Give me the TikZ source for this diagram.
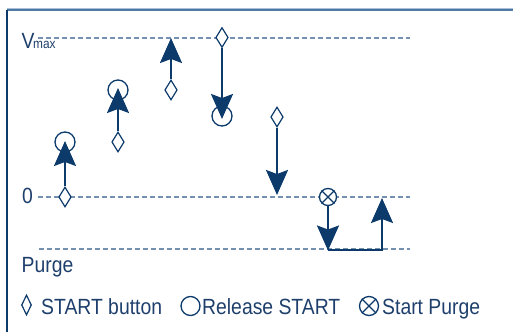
\documentclass[tikz,border=0pt]{standalone}
\usepackage{fontspec}
\setmainfont{Liberation Sans}[FakeStretch=0.88]
\usetikzlibrary{shapes.geometric,arrows.meta}
\definecolor{navy}{HTML}{0B3A6B}
\definecolor{txt}{HTML}{1E3F6C}
\definecolor{dashc}{HTML}{7590B0}
\definecolor{framec}{HTML}{4F7AA5}
\definecolor{framel}{HTML}{A9BFD5}
\tikzset{
  lvl/.style={draw=dashc, line width=1.4pt, dash pattern=on 4.5pt off 3.5pt},
  sbtn/.style={draw=navy, fill=white, diamond, line width=1.2pt, inner sep=0pt, minimum width=12.5pt, minimum height=20pt},
  rel/.style={draw=navy, fill=white, circle, line width=1.3pt, inner sep=0pt, minimum size=20pt},
  prg/.style={draw=navy, fill=white, circle, line width=1.3pt, inner sep=0pt, minimum size=17pt},
  varrow/.style={draw=navy, line width=2pt, -{Stealth[length=25pt,width=22pt,inset=4pt]}},
  shaft/.style={draw=navy, line width=2pt},
  lbl/.style={text=txt, font=\fontsize{22}{25}\selectfont, inner sep=0pt, anchor=base west},
}
\begin{document}
\begin{tikzpicture}[x=1pt,y=-1pt]
\useasboundingbox (0,0) rectangle (513,332);
% frame
\draw[framel, line width=1pt] (7,8.6) -- (513,8.6);
\draw[framec, line width=2pt] (7,10.3) -- (513,10.3);
\draw[navy, line width=1.5pt] (7,9.5) -- (7,332);
% level lines
\coordinate (va) at (38,38); \coordinate (vb) at (410,38);
\coordinate (za) at (38,197); \coordinate (zb) at (410,197);
\coordinate (pa) at (39,249); \coordinate (pb) at (410,249);
\draw[lvl] (va) -- (vb);
\draw[lvl] (za) -- (zb);
\draw[lvl] (pa) -- (pb);
% labels
\node[lbl] (lv) at (21.5,48.5) {V};
\node[lbl, font=\fontsize{13.5}{15}\selectfont] (lm) at (33,48.5) {max};
\node[lbl] (l0) at (22,203.5) {0};
\node[lbl] (lp) at (21.5,272.5) {Purge};
% symbols
\node[sbtn] (d1) at (65,197) {};
\node[rel] (c1) at (65,142) {};
\node[sbtn] (d2) at (118,142) {};
\node[rel] (c2) at (118,90) {};
\node[sbtn] (d3) at (171,90) {};
\coordinate (t3) at (171,38);
\node[sbtn] (d4) at (222,37.5) {};
\node[rel] (c4) at (222,116) {};
\node[sbtn] (d5) at (277,117) {};
\coordinate (t5) at (277,195);
\node[prg] (x6) at (328,197) {};
\draw[navy, line width=1.3pt] (x6.45) -- (x6.225) (x6.135) -- (x6.315);
\coordinate (p6) at (328,249.5);
\coordinate (p7) at (382,249.5);
\coordinate (t7) at (382,198);
% arrows
\draw[varrow] (d1.north) -- ([yshift=1pt]c1.center);
\draw[varrow] (d2.north) -- ([yshift=2pt]c2.center);
\draw[varrow] (d3.north) -- (t3);
\draw[varrow] (d4.south) -- ([yshift=-3pt]c4.center);
\draw[varrow] (d5.south) -- (t5);
\draw[varrow] (x6.south) -- ([yshift=-1pt]p6);
\draw[shaft] (p6) -- ([xshift=1pt]p7);
\draw[varrow] (p7) -- (t7);
% legend
\node[sbtn, minimum width=10pt, minimum height=20pt] (ld) at (26.5,305) {};
\node[lbl] (lt1) at (41,314) {START button};
\node[rel, minimum size=19pt] (lc) at (190.5,306) {};
\node[lbl] (lt2) at (202,314) {Release START};
\node[prg, minimum size=19pt] (lx) at (369,306) {};
\draw[navy, line width=1.3pt] (lx.45) -- (lx.225) (lx.135) -- (lx.315);
\node[lbl] (lt3) at (382,314) {Start Purge};
\end{tikzpicture}
\end{document}
